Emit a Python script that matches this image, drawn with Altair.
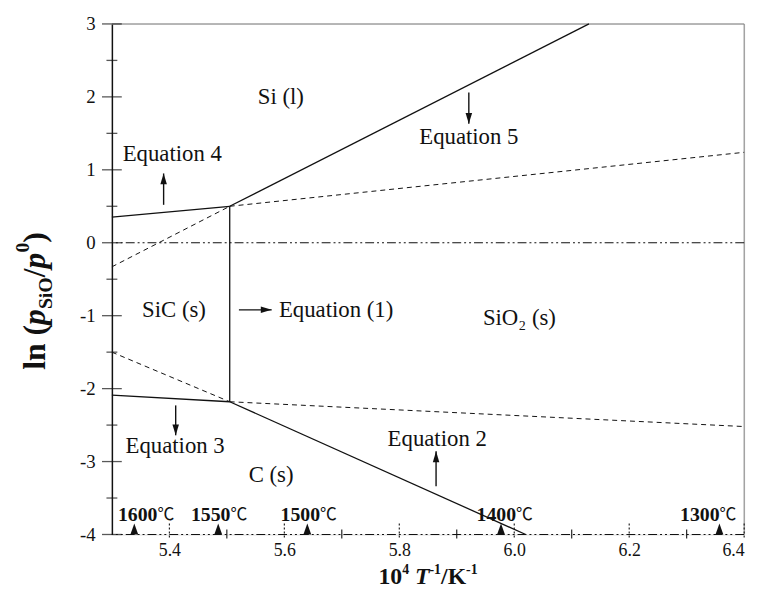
import altair as alt
import pandas as pd

# ---------------- data ----------------
# solid phase boundaries (x = 10^4/T, y = ln(pSiO/p0))
eq4_x = [5.30, 5.505]; eq4_y = [0.35, 0.50]
eq5_x = [5.505, 6.13]; eq5_y = [0.50, 3.00]
eq1_x = [5.505, 5.505]; eq1_y = [-2.18, 0.50]
eq3_x = [5.30, 5.505]; eq3_y = [-2.09, -2.18]
eq2_x = [5.505, 6.02]; eq2_y = [-2.18, -4.00]
# dashed (metastable) extensions
d4_x = [5.505, 6.40]; d4_y = [0.50, 1.24]
d5_x = [5.30, 5.505]; d5_y = [-0.33, 0.50]
d3_x = [5.505, 6.40]; d3_y = [-2.18, -2.52]
d2_x = [5.30, 5.505]; d2_y = [-1.50, -2.18]
# dash-dot reference levels
level_y = [0.0, -4.0]

# temperature markers on the bottom axis
temp_values = ["1600", "1550", "1500", "1400", "1300"]
temp_unit = ["℃", "℃", "℃", "℃", "℃"]
temp_x = [5.339, 5.485, 5.640, 5.977, 6.357]
temp_label_x = [5.362, 5.489, 5.645, 5.986, 6.340]
temp_label_y = [-3.73, -3.73, -3.73, -3.73, -3.73]

# region / equation labels
ann_text = ["Si (l)", "Equation 5", "Equation 4", "SiC (s)", "Equation (1)",
            "SiO₂ (s)", "Equation 3", "Equation 2", "C (s)"]
ann_x = [5.594, 5.921, 5.405, 5.408, 5.690, 6.009, 5.410, 5.866, 5.577]
ann_y = [2.00, 1.45, 1.22, -0.92, -0.92, -1.03, -2.79, -2.69, -3.19]

# arrows: start -> tip
arr_x = [5.390, 5.921, 5.411, 5.864, 5.521]
arr_y = [0.52, 2.06, -2.23, -3.34, -0.92]
arr_x2 = [5.390, 5.921, 5.411, 5.864, 5.578]
arr_y2 = [0.95, 1.63, -2.64, -2.86, -0.92]
arr_angle = [0, 180, 180, 0, 90]

# axis ticks
x_major = [5.4, 5.6, 5.8, 6.0, 6.2, 6.4]
x_minor = [5.5, 5.7, 5.9, 6.1, 6.3]
y_major = [-4, -3, -2, -1, 0, 1, 2, 3]
y_minor = [-3.5, -2.5, -1.5, -0.5, 0.5, 1.5, 2.5]

X_DOM = [5.3, 6.4]
Y_DOM = [-4, 3]
W, H = 639, 516
SERIF = "Liberation Serif, Times New Roman, serif"

# ---------------- tables ----------------
def seg_table(groups):
    rows = []
    for name, xs, ys in groups:
        for i, (a, b) in enumerate(zip(xs, ys)):
            rows.append({"series": name, "x": a, "y": b, "o": i})
    return pd.DataFrame(rows)

solid = seg_table([("eq4", eq4_x, eq4_y), ("eq5", eq5_x, eq5_y), ("eq1", eq1_x, eq1_y),
                   ("eq3", eq3_x, eq3_y), ("eq2", eq2_x, eq2_y)])
dashed = seg_table([("d4", d4_x, d4_y), ("d5", d5_x, d5_y),
                    ("d3", d3_x, d3_y), ("d2", d2_x, d2_y)])

xs = alt.Scale(domain=X_DOM, nice=False, zero=False)
ys = alt.Scale(domain=Y_DOM, nice=False, zero=False)

xaxis = alt.Axis(values=x_major, labelExpr="format(datum.value, '.1f')", domain=False,
                 ticks=False, tickSize=0, grid=False, labelPadding=7, title=None,
                 labelFont=SERIF, labelFontSize=18, labelColor="#111")
yaxis = alt.Axis(values=y_major, labelExpr="'' + datum.value", domain=True,
                 domainColor="#111", domainWidth=1.5, ticks=False, tickSize=0,
                 grid=False, labelPadding=17, title=None,
                 labelFont=SERIF, labelFontSize=19, labelColor="#111")

def X(f="x"):
    return alt.X(f, type="quantitative", scale=xs, axis=xaxis)

def Y(f="y"):
    return alt.Y(f, type="quantitative", scale=ys, axis=yaxis)

solid_layer = alt.Chart(solid).mark_line(color="#111", strokeWidth=1.3).encode(
    x=X(), y=Y(), detail="series:N", order="o:Q")
dashed_layer = alt.Chart(dashed).mark_line(color="#111", strokeWidth=1.0,
                                           strokeDash=[5, 4]).encode(
    x=X(), y=Y(), detail="series:N", order="o:Q")

levels = alt.Chart(pd.DataFrame({"y": level_y})).mark_rule(
    color="#111", strokeWidth=1.1, strokeDash=[9, 3, 2, 3, 2, 3]).encode(y=Y())

# frame (top and right, grey)
frame_top = alt.Chart(alt.Data(values=[{}])).mark_rule(color="#808080", strokeWidth=1).encode(
    y=alt.value(0))
frame_right = alt.Chart(alt.Data(values=[{}])).mark_rule(color="#808080", strokeWidth=1).encode(
    x=alt.value(W))

# y axis crossing ticks
ymaj = alt.Chart(pd.DataFrame({"y": y_major})).mark_tick(
    orient="horizontal", size=20, thickness=1.3, color="#111").encode(x=alt.value(0), y=Y())
ymin = alt.Chart(pd.DataFrame({"y": y_minor})).mark_tick(
    orient="horizontal", size=11, thickness=1.3, color="#111").encode(x=alt.value(0), y=Y())

# x axis ticks (dotted majors, small solid minors)
xmaj = alt.Chart(pd.DataFrame({"x": x_major})).mark_rule(
    color="#111", strokeWidth=1.1, strokeDash=[2, 2]).encode(
    x=X(), y=alt.value(H + 3), y2=alt.value(H - 13))
xmin = alt.Chart(pd.DataFrame({"x": x_minor})).mark_rule(
    color="#111", strokeWidth=1.1).encode(
    x=X(), y=alt.value(H + 4), y2=alt.value(H - 5))

# temperature triangles and labels
tri = alt.Chart(pd.DataFrame({"x": temp_x, "y": [Y_DOM[0]] * len(temp_x)})).mark_point(
    shape="M-0.36,0L0.36,0L0,-1Z", filled=True, size=484, color="#111", opacity=1,
    strokeWidth=0).encode(x=X(), y=Y())
temp_df = pd.DataFrame({"x": temp_label_x, "y": temp_label_y, "t": temp_values, "u": temp_unit})
temp_num = alt.Chart(temp_df).mark_text(
    font=SERIF, fontSize=20, fontWeight="bold", color="#111", baseline="middle",
    align="right", dx=10).encode(x=X(), y=Y(), text="t:N")
temp_deg = alt.Chart(temp_df).mark_text(
    font="Noto Sans CJK SC, sans-serif", fontSize=17, fontWeight="normal", color="#111",
    baseline="middle", align="left", dx=10).encode(x=X(), y=Y(), text="u:N")

# annotations
ann = alt.Chart(pd.DataFrame({"x": ann_x, "y": ann_y, "t": ann_text})).mark_text(
    font=SERIF, fontSize=23, color="#111", baseline="middle").encode(x=X(), y=Y(), text="t:N")

arrows = pd.DataFrame({"x": arr_x, "y": arr_y, "x2": arr_x2, "y2": arr_y2, "a": arr_angle})
shafts = alt.Chart(arrows).mark_rule(color="#111", strokeWidth=1.4).encode(
    x=X(), y=Y(), x2="x2", y2="y2")
heads = alt.Chart(arrows).mark_point(
    shape="M0,0L0.3,1L-0.3,1Z", filled=True, size=484, color="#111", opacity=1,
    strokeWidth=0).encode(
    x=X("x2"), y=Y("y2"), angle=alt.Angle("a:Q", scale=None))

# ---------------- composed axis titles ----------------
METRIC = {  # Times-like advance widths (per 1000 em)
    ("bold", "normal"): {"l": 278, "n": 556, " ": 250, "(": 333, ")": 333, "/": 278, "S": 556,
                         "i": 278, "O": 778, "0": 500, "1": 500, "4": 500, "-": 333, "K": 778},
    ("bold", "italic"): {"p": 500, "T": 611},
}

def width(t, size, weight, style):
    m = METRIC[(weight, style)]
    return sum(m.get(c, 500) for c in t) * size / 1000.0

def piece(t, size, style, xv, yv, angle=0):
    kw = dict(font=SERIF, fontSize=size, fontWeight="bold", fontStyle=style, color="#111",
              align="left", baseline="alphabetic", text=t)
    if angle:
        kw["angle"] = angle
    return alt.Chart(alt.Data(values=[{}])).mark_text(**kw).encode(
        x=alt.value(xv), y=alt.value(yv))

# y title: ln (p_SiO/p^0)  (rotated, reading upwards)
ytitle_parts = [("ln (", 32, "normal", 0), ("p", 32, "italic", 0), ("SiO", 20, "normal", 7),
                ("/", 32, "normal", 0), ("p", 32, "italic", 0), ("0", 20, "normal", -16),
                (")", 32, "normal", 0)]
ylen = sum(width(t, s, "bold", st) for t, s, st, _ in ytitle_parts)
y_base_x = -68
cur = 280 + ylen / 2
ytitle = []
for t, s, st, sh in ytitle_parts:
    ytitle.append(piece(t, s, st, y_base_x + sh, cur, angle=270))
    cur -= width(t, s, "bold", st)

# x title: 10^4 T^-1/K^-1
xtitle_parts = [("10", 24, "normal", 0), ("4", 14, "normal", -10), (" ", 24, "normal", 0),
                ("T", 24, "italic", 0), ("-1", 14, "normal", -10), ("/K", 24, "normal", 0),
                ("-1", 14, "normal", -10)]
xlen = sum(width(t, s, "bold", st) for t, s, st, _ in xtitle_parts)
curx = W / 2 - xlen / 2
x_base_y = H + 50
xtitle = []
for t, s, st, sh in xtitle_parts:
    if t.strip():
        xtitle.append(piece(t, s, st, curx, x_base_y + sh))
    curx += width(t, s, "bold", st)

chart = alt.layer(
    frame_top, frame_right, levels, dashed_layer, solid_layer, xmaj, xmin, ymaj, ymin,
    tri, temp_num, temp_deg, ann, shafts, heads, *ytitle, *xtitle
).properties(
    width=W, height=H,
    autosize=alt.AutoSizeParams(type="none"),
    padding={"left": 105, "top": 13, "right": 14, "bottom": 54},
).configure_view(stroke=None).configure(background="white")

chart.save("out.html", embed_options={"renderer": "svg", "actions": False})
